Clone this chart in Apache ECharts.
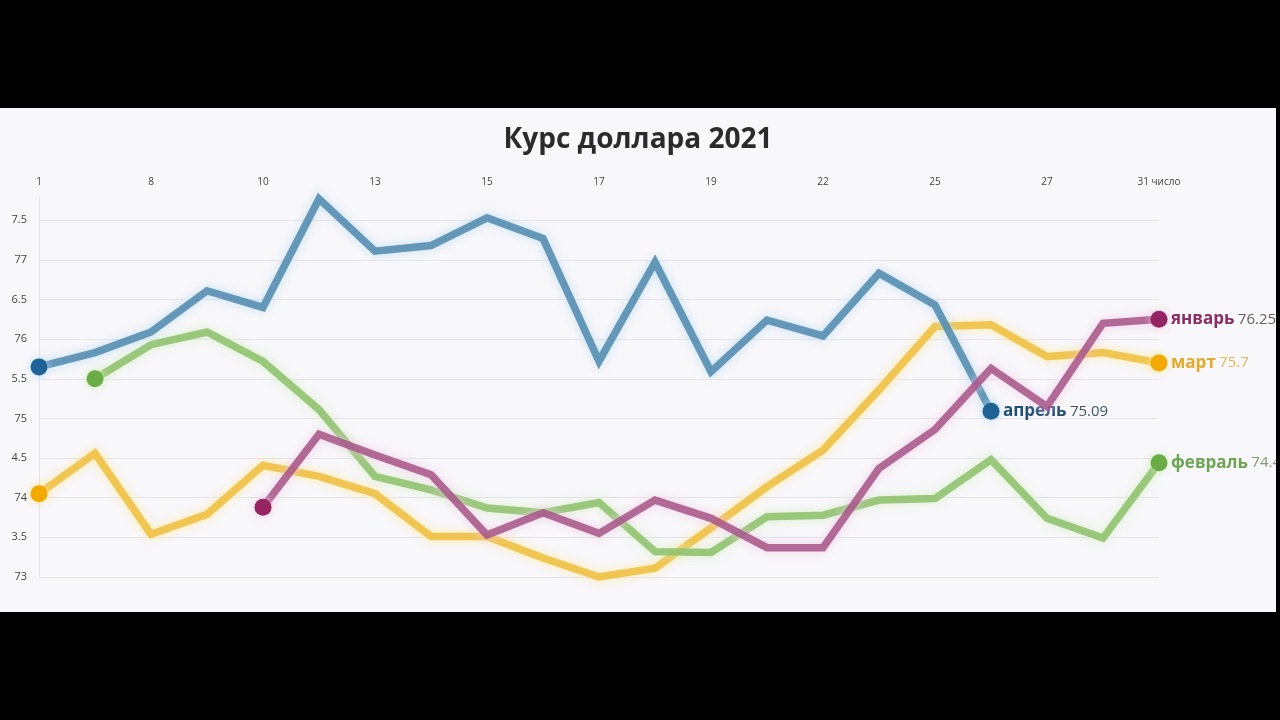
<!DOCTYPE html>
<html>
<head>
<meta charset="utf-8">
<script src="https://cdn.jsdelivr.net/npm/echarts@6/dist/echarts.min.js"></script>
<style>
  html, body { margin: 0; padding: 0; background: #000; width: 1280px; height: 720px; overflow: hidden; }
  #frame { position: absolute; left: 0; top: 0; width: 1280px; height: 720px; background: #000; }
  #chart { position: absolute; left: 0; top: 108px; width: 1276px; height: 504px; background: #f8f7fa; }
</style>
</head>
<body>
<div id="frame"><div id="chart"></div></div>
<script>
// Category labels (every other business day labelled on the top axis)
const days = ['1', '', '8', '', '10', '', '13', '', '15', '', '17', '', '19', '', '22', '', '25', '', '27', '', '31 число'];

// Monthly USD/RUB rates, 2021
const aprel   = [75.65, 75.83, 76.09, 76.61, 76.40, 77.77, 77.11, 77.18, 77.53, 77.27, 75.72, 76.97, 75.59, 76.24, 76.04, 76.83, 76.43, 75.09];
const fevral  = ['-', 75.50, 75.93, 76.09, 75.72, 75.11, 74.27, 74.10, 73.87, 73.81, 73.94, 73.32, 73.31, 73.76, 73.78, 73.97, 73.99, 74.48, 73.74, 73.49, 74.44];
const mart    = [74.05, 74.56, 73.54, 73.79, 74.41, 74.27, 74.05, 73.51, 73.51, 73.24, 73.00, 73.11, 73.62, 74.14, 74.60, 75.36, 76.16, 76.18, 75.78, 75.83, 75.70];
const yanvar  = ['-', '-', '-', '-', 73.88, 74.80, 74.54, 74.29, 73.53, 73.81, 73.55, 73.97, 73.74, 73.37, 73.37, 74.37, 74.86, 75.63, 75.15, 76.20, 76.25];

const seriesNames = ['январь', 'февраль', 'март', 'апрель'];

const chart = echarts.init(document.getElementById('chart'), null, { renderer: 'canvas' });

function firstIdx(arr) { for (let i = 0; i < arr.length; i++) if (arr[i] !== '-') return i; return 0; }

function makeSeries(name, data, lineColor, dotColor, haloColor, nameColor, valColor, z) {
  const f = firstIdx(data), l = data.length - 1;
  return {
    name: name,
    type: 'line',
    data: data,
    z: z,
    clip: false,
    showSymbol: true,
    symbol: 'circle',
    symbolSize: function (v, p) { return (p.dataIndex === f || p.dataIndex === l) ? 17 : 0; },
    itemStyle: { color: dotColor, shadowColor: haloColor, shadowBlur: 8 },
    lineStyle: { color: lineColor, width: 7.5, opacity: 0.85, shadowColor: haloColor, shadowBlur: 10, join: 'miter' },
    emphasis: { disabled: true },
    endLabel: {
      show: true,
      distance: 12,
      formatter: function (p) { return '{n|' + name + '} {v|' + p.value + '}'; },
      rich: {
        n: { fontFamily: 'Open Sans', fontWeight: 'bold', fontSize: 17, color: nameColor },
        v: { fontFamily: 'Open Sans', fontSize: 15, color: valColor }
      }
    }
  };
}

const option = {
  animation: false,
  backgroundColor: '#f8f7fa',
  title: {
    text: 'Курс доллара 2021',
    left: 'center',
    top: 13,
    textStyle: { fontFamily: 'Open Sans', fontWeight: 'bold', fontSize: 28, color: '#2b2b2b' }
  },
  grid: { left: 39, right: 117, top: 90, bottom: 35, containLabel: false },
  xAxis: {
    type: 'category',
    position: 'top',
    boundaryGap: false,
    data: days,
    axisLine: { show: false },
    axisTick: { show: false },
    splitLine: { show: false },
    axisLabel: { interval: 0, margin: 11, fontFamily: 'Open Sans', fontSize: 10, color: '#444' }
  },
  yAxis: {
    type: 'value',
    min: 73,
    max: 77.78,
    interval: 0.5,
    axisLine: { show: true, lineStyle: { color: '#e2e2e8', width: 1 } },
    axisTick: { show: false },
    splitLine: { show: true, showMaxLine: false, lineStyle: { color: '#e4e4ea', width: 1 } },
    axisLabel: {
      showMaxLabel: false,
      margin: 12,
      fontFamily: 'Open Sans',
      fontSize: 11,
      color: '#444',
      formatter: function (v) {
        const r = Math.round(v * 2) / 2;
        if (Math.abs(r - v) > 1e-6) return '';
        return (r % 1 === 0) ? String(r) : (r % 10).toFixed(1);
      }
    }
  },
  series: [
    makeSeries(seriesNames[2], mart,   '#efbd3c', '#f2aa00', 'rgba(255,232,140,0.95)', '#e6a92a', '#e3bb55', 2),
    makeSeries(seriesNames[1], fevral, '#8cbf6a', '#6aac45', 'rgba(210,238,190,0.95)', '#6da553', '#7f9d6e', 3),
    makeSeries(seriesNames[3], aprel,  '#4f88ad', '#1e6396', 'rgba(185,220,242,1)', '#1f4f74', '#3f5566', 4),
    makeSeries(seriesNames[0], yanvar, '#a65386', '#952462', 'rgba(238,200,230,0.95)', '#8a2c66', '#6b5c66', 5)
  ]
};

chart.setOption(option);
</script>
</body>
</html>
